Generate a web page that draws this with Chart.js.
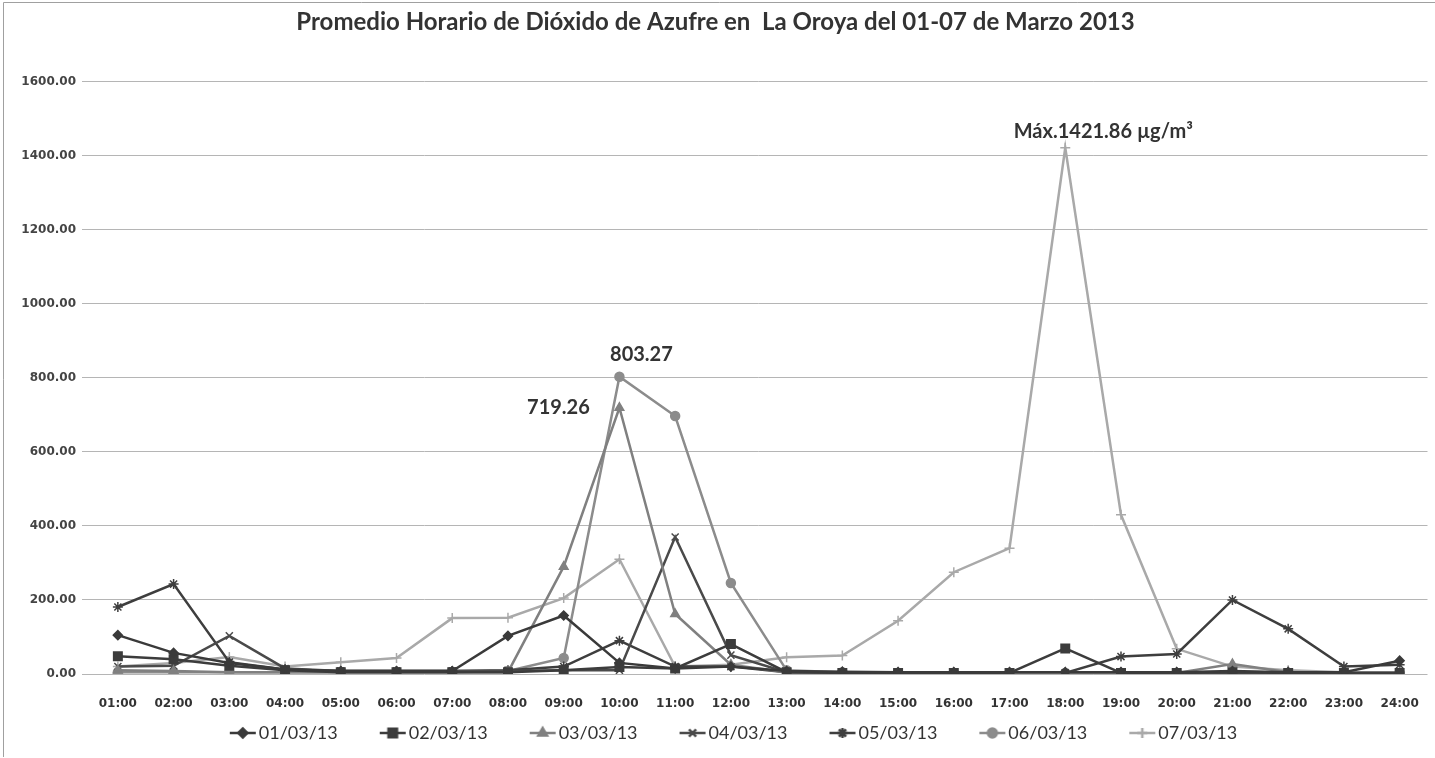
<!DOCTYPE html>
<html><head><meta charset="utf-8">
<script src="https://cdn.jsdelivr.net/npm/chart.js@4/dist/chart.umd.min.js"></script>
<style>html,body{margin:0;padding:0;background:#fff;}#wrap{width:1435px;height:758px;}</style>
</head><body><div id="wrap"><canvas id="c" width="1435" height="758"></canvas></div>
<script>
const hours = ['01:00','02:00','03:00','04:00','05:00','06:00','07:00','08:00','09:00','10:00','11:00','12:00',
  '13:00','14:00','15:00','16:00','17:00','18:00','19:00','20:00','21:00','22:00','23:00','24:00'];
const seriesNames = ['01/03/13','02/03/13','03/03/13','04/03/13','05/03/13','06/03/13','07/03/13'];
const d0103 = [105,57,30,12,8,8,8,103,158,30,15,20,8,6,5,5,5,5,5,5,8,5,5,36];
const d0203 = [48,40,22,10,5,5,5,5,10,19,15,81,5,3,3,3,3,69,3,3,5,3,3,3];
const d0303 = [10,8,5,5,5,5,5,5,290,719.26,162,25,5,5,3,3,3,3,3,3,27,5,3,3];
const d0403 = [20,22,103,15,8,8,8,8,10,10,370,51,5,5,3,3,3,3,3,3,5,3,3,3];
const d0503 = [181,243,32,12,8,8,8,10,20,90,20,20,5,5,3,3,3,3,47,54,200,122,20,25];
const d0603 = [5,5,5,5,5,5,5,8,43,803.27,697,246,10,5,3,3,3,3,3,3,3,3,3,3];
const d0703 = [20,30,46,20,32,43,151,152,205,310,20,25,45,50,144,275,340,1421.86,430,68,20,10,5,5];
const yTickValues = [0,200,400,600,800,1000,1200,1400,1600];
const annotationTexts = ['803.27','719.26','Máx.1421.86 µg/m³'];

const allData = [d0103,d0203,d0303,d0403,d0503,d0603,d0703];
const colors = ['#3a3a3a','#3c3c3c','#808080','#4a4a4a','#3e3e3e','#8c8c8c','#a9a9a9'];
const styles = ['rectRot','rect','triangle','crossRot','star','circle','cross'];
const radii = [4.5,6,5,5,5,4.5,5];

function legendIcon(i){
  const cv = document.createElement('canvas');
  cv.width = 70; cv.height = 16;
  const ctx = cv.getContext('2d');
  ctx.strokeStyle = colors[i]; ctx.lineWidth = 2.5;
  ctx.beginPath(); ctx.moveTo(43,8); ctx.lineTo(69,8); ctx.stroke();
  ctx.fillStyle = colors[i];
  Chart.helpers.drawPoint(ctx,{pointStyle:styles[i],radius:radii[i],borderWidth:2,rotation:0},56,8);
  return cv;
}

const datasets = allData.map((d,i)=>({
  label: seriesNames[i], data: d,
  borderColor: colors[i], backgroundColor: colors[i],
  borderWidth: 2.5, pointStyle: styles[i], pointRadius: radii[i],
  pointBorderWidth: 1.5, pointBorderColor: colors[i], pointBackgroundColor: colors[i],
  tension: 0, fill: false
}));

const annotations = [
  {ds:5, idx:9, text:annotationTexts[0], dx:22, dy:-22},
  {ds:2, idx:9, text:annotationTexts[1], dx:-61, dy:0},
  {ds:6, idx:17, text:annotationTexts[2], dx:38, dy:-16}
];

const labelPlugin = {
  id:'dataLabels',
  afterDatasetsDraw(chart){
    const ctx = chart.ctx;
    ctx.save();
    ctx.font = 'bold 20px Lato';
    ctx.fillStyle = '#333';
    ctx.textAlign = 'center'; ctx.textBaseline = 'middle';
    annotations.forEach(a=>{
      const p = chart.getDatasetMeta(a.ds).data[a.idx];
      ctx.fillText(a.text, p.x + a.dx, p.y + a.dy);
    });
    ctx.restore();
  }
};
const bgPlugin = {
  id:'bg',
  beforeDraw(chart){
    const ctx = chart.ctx;
    ctx.save();
    ctx.fillStyle = '#fff'; ctx.fillRect(0,0,chart.width,chart.height);
    ctx.strokeStyle = '#a0a0a0'; ctx.lineWidth = 1;
    ctx.beginPath(); ctx.moveTo(3.5,757); ctx.lineTo(3.5,2.5); ctx.lineTo(1435,2.5); ctx.stroke();
    ctx.restore();
  }
};

new Chart(document.getElementById('c'), {
  type:'line',
  data:{labels:hours, datasets},
  options:{
    responsive:false, animation:false, devicePixelRatio:1,
    layout:{padding:{left:2,right:6,top:8,bottom:6}},
    plugins:{
      title:{display:true,text:'Promedio Horario de Dióxido de Azufre en  La Oroya del 01-07 de Marzo 2013',
        font:{family:'Lato',size:24,weight:'bold'},color:'#333',padding:{top:0,bottom:45}},
      legend:{position:'bottom',
        labels:{usePointStyle:true,pointStyleWidth:56,padding:6,color:'#333',
          font:{family:'Lato',size:18},
          generateLabels(chart){
            return chart.data.datasets.map((ds,i)=>({text:ds.label,pointStyle:legendIcon(i),datasetIndex:i,
              fillStyle:colors[i],strokeStyle:colors[i],lineWidth:0,hidden:false,fontColor:'#333'}));
          }}},
      tooltip:{enabled:false}
    },
    scales:{
      x:{offset:true,grid:{display:false},border:{display:false},
        ticks:{padding:15,color:'#333',font:{family:'DejaVu Sans',size:12,weight:'bold'},maxRotation:0,autoSkip:false},
        afterFit(s){s.height=44;}},
      y:{min:0,max:1600,
        afterBuildTicks(s){s.ticks = yTickValues.map(v=>({value:v}));},
        ticks:{padding:6,color:'#444',font:{family:'DejaVu Sans',size:12,weight:'bold'},callback:v=>Number(v).toFixed(2)},
        grid:{color:'#b5b5b5',lineWidth:1,tickLength:8},
        border:{display:false},
        afterFit(s){s.width=88;}}
    }
  },
  plugins:[bgPlugin,labelPlugin]
});
</script></body></html>
